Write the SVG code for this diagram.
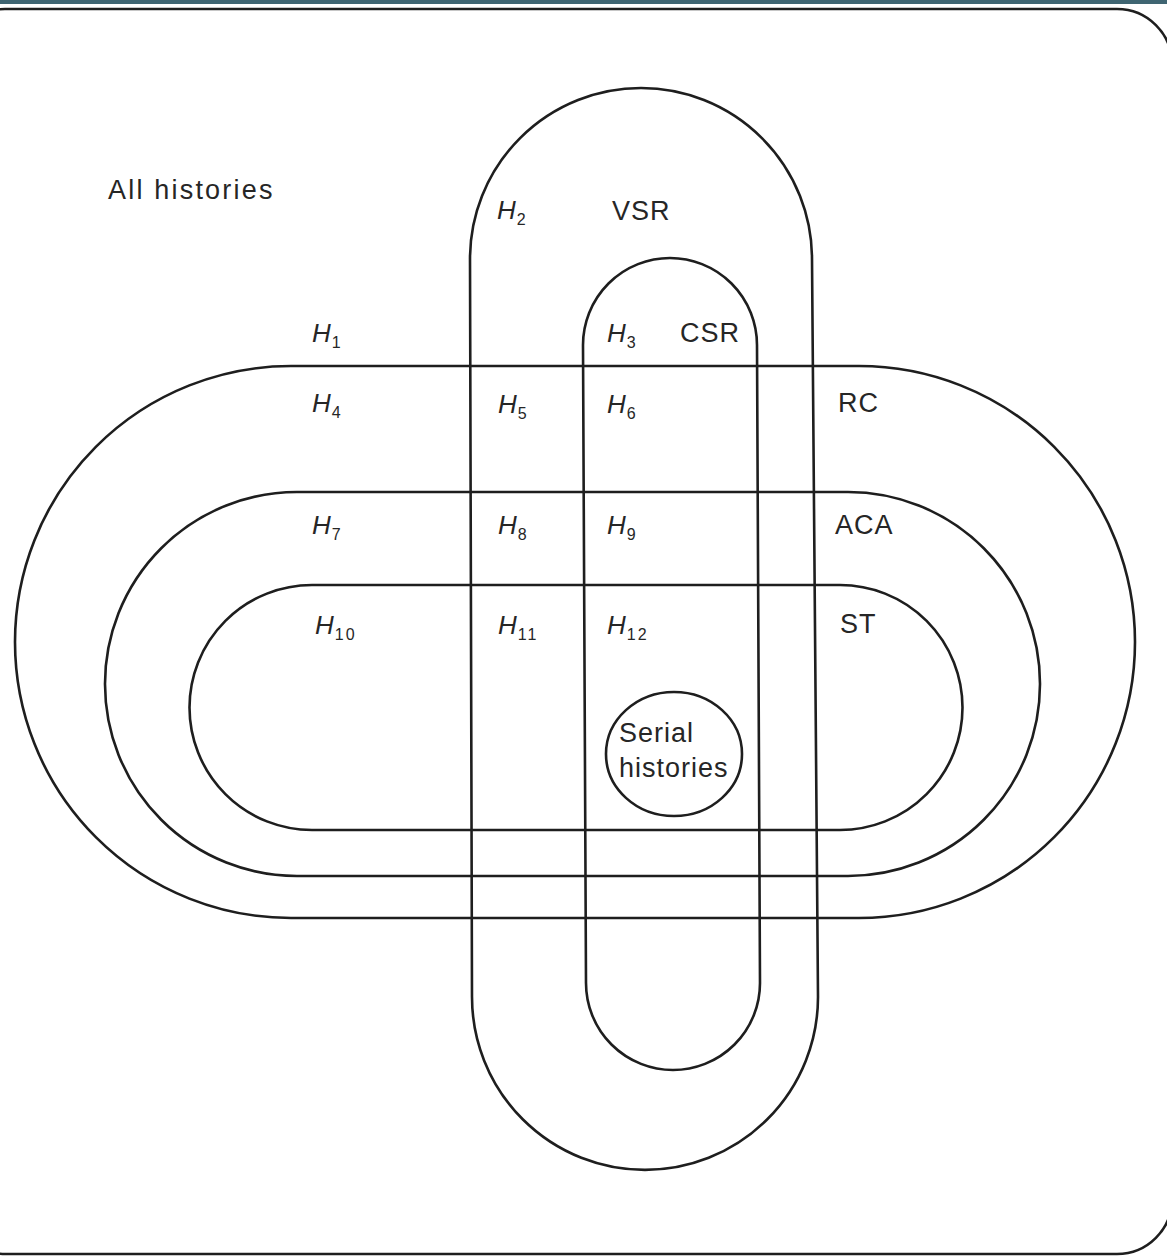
<svg xmlns="http://www.w3.org/2000/svg" width="1167" height="1258" viewBox="0 0 1167 1258">
<style>
.ln{fill:none;stroke:#1e1e1e;stroke-width:2.6}
.t{font-family:"Liberation Sans",Arial,sans-serif;font-size:27px;fill:#262626;letter-spacing:1px}
.h{font-family:"Liberation Sans",Arial,sans-serif;font-size:26px;font-style:italic;fill:#262626}
.s{font-size:16px;font-style:normal}
</style>
<rect x="0" y="0" width="1167" height="1258" fill="#ffffff"/>
<rect x="0" y="0" width="1167" height="4" fill="#3f6572"/>
<g id="all-histories">
<rect class="ln" x="-50" y="9" width="1222" height="1245" rx="55" ry="55"/>
<text class="t" x="108" y="199" style="letter-spacing:2.2px">All histories</text>
</g>
<g id="VSR">
<path class="ln" d="M470,259 A171,171 0 0 1 812,259 L818,997 A173,173 0 0 1 472,997 Z"/>
<text class="t" x="612" y="220">VSR</text>
</g>
<g id="CSR">
<path class="ln" d="M583,345 A87,87 0 0 1 757,345 L760,983 A87,87 0 0 1 586,983 Z"/>
<text class="t" x="680" y="342">CSR</text>
</g>
<g id="RC">
<path class="ln" d="M291,366 L859,366 A276,276 0 0 1 859,918 L291,918 A276,276 0 0 1 291,366 Z"/>
<text class="t" x="838" y="412">RC</text>
</g>
<g id="ACA">
<path class="ln" d="M297,492 L848,492 A192,192 0 0 1 848,876 L297,876 A192,192 0 0 1 297,492 Z"/>
<text class="t" x="835" y="534">ACA</text>
</g>
<g id="ST">
<path class="ln" d="M312,585 L840,585 A122.5,122.5 0 0 1 840,830 L312,830 A122.5,122.5 0 0 1 312,585 Z"/>
<text class="t" x="840" y="633">ST</text>
</g>
<g id="serial">
<ellipse class="ln" cx="674" cy="754" rx="68" ry="62"/>
<text class="t" x="619" y="742">Serial</text>
<text class="t" x="619" y="777">histories</text>
</g>
<g id="labels">
<text class="h" x="497" y="219">H<tspan class="s" dx="1" dy="6">2</tspan></text>
<text class="h" x="312" y="342">H<tspan class="s" dx="1" dy="6">1</tspan></text>
<text class="h" x="607" y="342">H<tspan class="s" dx="1" dy="6">3</tspan></text>
<text class="h" x="312" y="412">H<tspan class="s" dx="1" dy="6">4</tspan></text>
<text class="h" x="498" y="413">H<tspan class="s" dx="1" dy="6">5</tspan></text>
<text class="h" x="607" y="413">H<tspan class="s" dx="1" dy="6">6</tspan></text>
<text class="h" x="312" y="534">H<tspan class="s" dx="1" dy="6">7</tspan></text>
<text class="h" x="498" y="534">H<tspan class="s" dx="1" dy="6">8</tspan></text>
<text class="h" x="607" y="534">H<tspan class="s" dx="1" dy="6">9</tspan></text>
<text class="h" x="315" y="634">H<tspan class="s" dx="1" dy="6" style="letter-spacing:2px">10</tspan></text>
<text class="h" x="498" y="634">H<tspan class="s" dx="1" dy="6" style="letter-spacing:2px">11</tspan></text>
<text class="h" x="607" y="634">H<tspan class="s" dx="1" dy="6" style="letter-spacing:2px">12</tspan></text>
</g>
</svg>
